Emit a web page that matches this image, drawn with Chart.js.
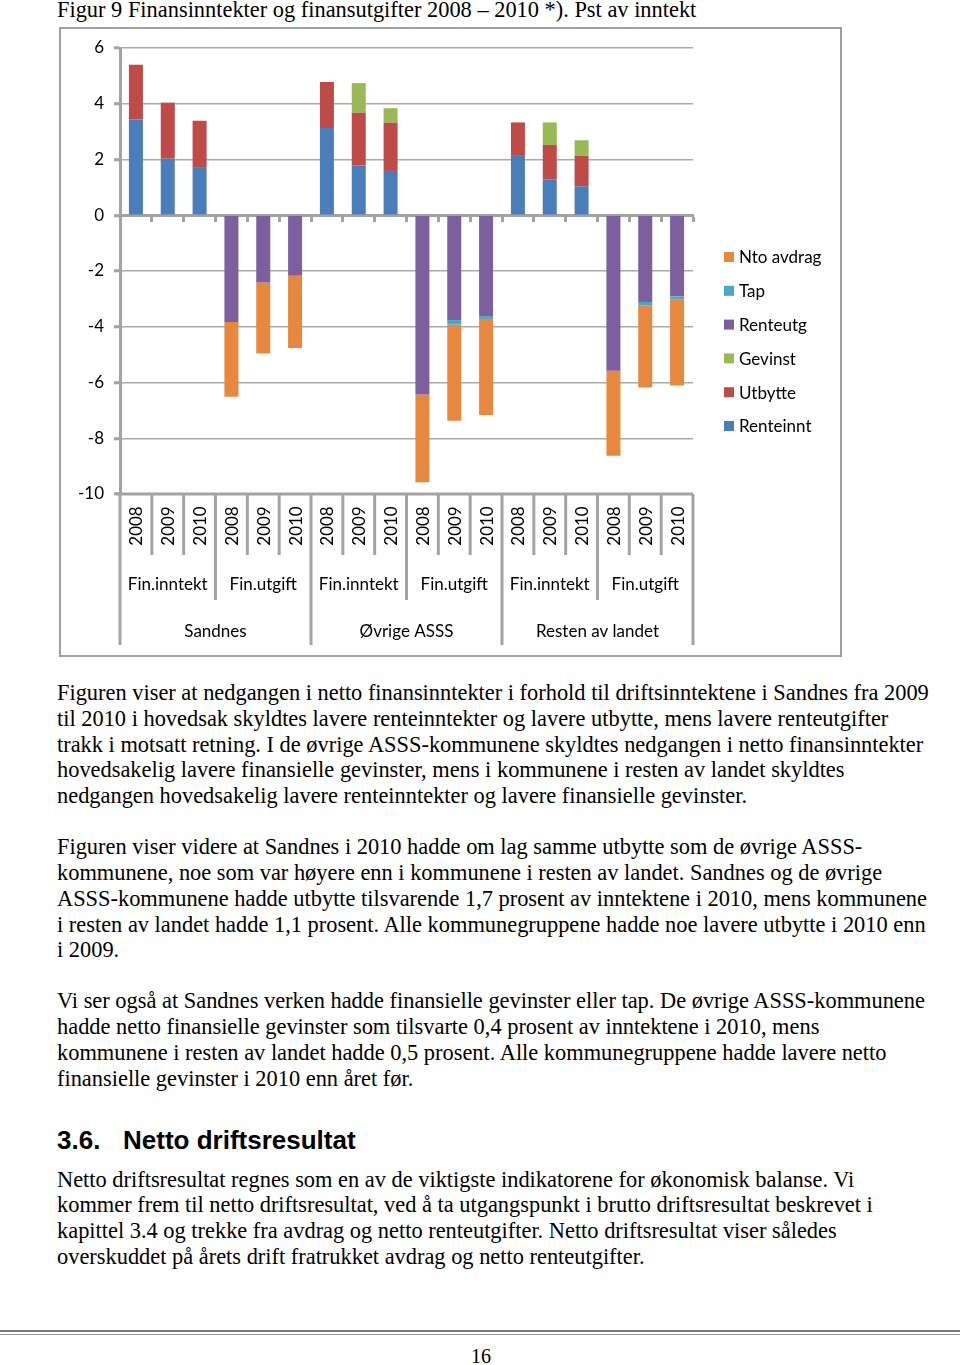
<!DOCTYPE html>
<html>
<head>
<meta charset="utf-8">
<script src="https://cdn.jsdelivr.net/npm/chart.js@4.4.1/dist/chart.umd.min.js"></script>
<style>
  body { margin: 0; width: 960px; height: 1365px; background: #fff; position: relative; overflow: hidden; }
  .t { position: absolute; left: 57px; white-space: nowrap; font-family: "Liberation Serif", "Times New Roman", serif; font-size: 22.4px; line-height: 26px; color: #000; }
  .h { position: absolute; left: 57px; white-space: nowrap; font-family: "Liberation Sans", Arial, sans-serif; font-weight: bold; font-size: 26px; line-height: 30px; }
  #finChart { position: absolute; left: 59px; top: 27px; }
  .rule { position: absolute; left: 0; width: 960px; height: 0; }
</style>
</head>
<body>

<div class="t" style="top:-3px">Figur 9 Finansinntekter og finansutgifter 2008 – 2010 *). Pst av inntekt</div>

<canvas id="finChart" width="783" height="630"></canvas>

<div class="t" style="top:680px">Figuren viser at nedgangen i netto finansinntekter i forhold til driftsinntektene i Sandnes fra 2009</div>
<div class="t" style="top:706px">til 2010 i hovedsak skyldtes lavere renteinntekter og lavere utbytte, mens lavere renteutgifter</div>
<div class="t" style="top:732px">trakk i motsatt retning. I de øvrige ASSS-kommunene skyldtes nedgangen i netto finansinntekter</div>
<div class="t" style="top:757px">hovedsakelig lavere finansielle gevinster, mens i kommunene i resten av landet skyldtes</div>
<div class="t" style="top:783px">nedgangen hovedsakelig lavere renteinntekter og lavere finansielle gevinster.</div>

<div class="t" style="top:834px">Figuren viser videre at Sandnes i 2010 hadde om lag samme utbytte som de øvrige ASSS-</div>
<div class="t" style="top:860px">kommunene, noe som var høyere enn i kommunene i resten av landet. Sandnes og de øvrige</div>
<div class="t" style="top:886px">ASSS-kommunene hadde utbytte tilsvarende 1,7 prosent av inntektene i 2010, mens kommunene</div>
<div class="t" style="top:912px">i resten av landet hadde 1,1 prosent. Alle kommunegruppene hadde noe lavere utbytte i 2010 enn</div>
<div class="t" style="top:937px">i 2009.</div>

<div class="t" style="top:988px">Vi ser også at Sandnes verken hadde finansielle gevinster eller tap. De øvrige ASSS-kommunene</div>
<div class="t" style="top:1014px">hadde netto finansielle gevinster som tilsvarte 0,4 prosent av inntektene i 2010, mens</div>
<div class="t" style="top:1040px">kommunene i resten av landet hadde 0,5 prosent. Alle kommunegruppene hadde lavere netto</div>
<div class="t" style="top:1066px">finansielle gevinster i 2010 enn året før.</div>

<div class="h" style="top:1125px">3.6.<span style="position:absolute;left:66px">Netto driftsresultat</span></div>

<div class="t" style="top:1167px">Netto driftsresultat regnes som en av de viktigste indikatorene for økonomisk balanse. Vi</div>
<div class="t" style="top:1192px">kommer frem til netto driftsresultat, ved å ta utgangspunkt i brutto driftsresultat beskrevet i</div>
<div class="t" style="top:1218px">kapittel 3.4 og trekke fra avdrag og netto renteutgifter. Netto driftsresultat viser således</div>
<div class="t" style="top:1244px">overskuddet på årets drift fratrukket avdrag og netto renteutgifter.</div>

<div class="rule" style="top:1330px;border-top:2px solid #777"></div>
<div class="rule" style="top:1334px;border-top:1px solid #999"></div>
<div class="t" style="top:1343px;left:0;width:962px;text-align:center;font-size:20px">16</div>

<script>
// kategorier (tre nivåer)
const years = ['2008', '2009', '2010'];
const types = ['Fin.inntekt', 'Fin.utgift'];
const groups = ['Sandnes', 'Øvrige ASSS', 'Resten av landet'];

// verdier, pst av inntekt
const renteinnt = [3.43, 2.03, 1.70, null, null, null, 3.13, 1.79, 1.59, null, null, null, 2.13, 1.29, 1.04, null, null, null];
const utbytte   = [1.97, 2.01, 1.69, null, null, null, 1.65, 1.89, 1.73, null, null, null, 1.20, 1.23, 1.09, null, null, null];
const gevinst   = [null, null, null, null, null, null, null, 1.06, 0.52, null, null, null, null, 0.81, 0.56, null, null, null];
const renteutg  = [null, null, null, -3.83, -2.41, -2.17, null, null, null, -6.43, -3.76, -3.62, null, null, null, -5.58, -3.11, -2.91];
const tap       = [null, null, null, null, null, null, null, null, null, null, -0.16, -0.10, null, null, null, null, -0.13, -0.12];
const avdrag    = [null, null, null, -2.68, -2.55, -2.59, null, null, null, -3.15, -3.45, -3.45, null, null, null, -3.05, -2.94, -3.08];

const yTicks = [6, 4, 2, 0, -2, -4, -6, -8, -10];

const labels = [];
groups.forEach(function(g) {
	types.forEach(function(t) {
		years.forEach(function(y) { labels.push(y); });
	});
});

const axisGray = '#a3a3a3';

// ramme, forklaring og kategoriaksen med flere nivåer
const excelLook = {
	id: 'excelLook',
	beforeDraw: function(chart) {
		const c = chart.ctx;
		c.save();
		c.fillStyle = '#fff';
		c.fillRect(0, 0, chart.width, chart.height);
		c.strokeStyle = '#a0a0a0';
		c.lineWidth = 2;
		c.strokeRect(1, 1, chart.width - 2, chart.height - 2);
		c.restore();
	},
	afterDraw: function(chart) {
		const c = chart.ctx;
		const xs = chart.scales.x;
		const ys = chart.scales.y;
		const base = ys.getPixelForValue(-10);
		const n = labels.length;
		const step = xs.getPixelForValue(1) - xs.getPixelForValue(0);
		const left = xs.getPixelForValue(0) - step / 2;

		c.save();
		// bunnlinje og skillestreker
		c.strokeStyle = axisGray;
		c.lineWidth = 3;
		c.beginPath();
		c.moveTo(left - 4, base);
		c.lineTo(left + n * step, base);
		c.stroke();
		for (let k = 0; k <= n; k++) {
			const bx = left + k * step;
			let end = base + 61;
			if (k % 6 === 0) end = base + 151;
			else if (k % 3 === 0) end = base + 106;
			c.beginPath();
			c.moveTo(bx, base);
			c.lineTo(bx, end);
			c.stroke();
		}

		c.fillStyle = '#000';
		c.font = '17px Lato';
		c.textAlign = 'center';
		c.textBaseline = 'middle';
		for (let i = 0; i < n; i++) {
			const cx = xs.getPixelForValue(i);
			c.save();
			c.translate(cx + 1, base + 32);
			c.rotate(-Math.PI / 2);
			c.fillText(labels[i], 0, 0);
			c.restore();
		}
		for (let j = 0; j < groups.length * types.length; j++) {
			c.fillText(types[j % 2], left + (j * 3 + 1.5) * step, base + 91);
		}
		for (let g = 0; g < groups.length; g++) {
			c.fillText(groups[g], left + (g * 6 + 3) * step, base + 138);
		}

		// forklaring
		c.font = '17px Lato';
		c.textAlign = 'left';
		const sets = chart.data.datasets.slice().reverse();
		sets.forEach(function(ds, i) {
			const ly = 230 + i * 33.8;
			c.fillStyle = ds.backgroundColor;
			c.fillRect(665, ly - 5, 10, 10);
			c.fillStyle = '#000';
			c.fillText(ds.label, 680, ly + 1);
		});
		c.restore();
	}
};

new Chart(document.getElementById('finChart'), {
	type: 'bar',
	data: {
		labels: labels,
		datasets: [
			{ label: 'Renteinnt', data: renteinnt, backgroundColor: '#4a7ebb' },
			{ label: 'Utbytte', data: utbytte, backgroundColor: '#be4b48' },
			{ label: 'Gevinst', data: gevinst, backgroundColor: '#98b954' },
			{ label: 'Renteutg', data: renteutg, backgroundColor: '#7d5fa0' },
			{ label: 'Tap', data: tap, backgroundColor: '#46a9c4' },
			{ label: 'Nto avdrag', data: avdrag, backgroundColor: '#e8883f' }
		]
	},
	options: {
		responsive: false,
		animation: false,
		devicePixelRatio: 1,
		barPercentage: 0.44,
		categoryPercentage: 1,
		layout: { padding: { left: 0, top: 21, right: 149, bottom: 163 } },
		plugins: {
			legend: { display: false },
			tooltip: { enabled: false }
		},
		scales: {
			x: {
				stacked: true,
				position: { y: 0 },
				offset: true,
				afterFit: function(scale) { scale.height = 0; },
				grid: {
					offset: true,
					drawOnChartArea: false,
					tickLength: 5,
					tickWidth: 3,
					tickColor: axisGray
				},
				border: { color: axisGray, width: 3 },
				ticks: { display: false }
			},
			y: {
				stacked: true,
				min: -10,
				max: 6,
				afterFit: function(scale) { scale.width = 61; },
				afterBuildTicks: function(scale) {
					scale.ticks = yTicks.map(function(v) { return { value: v }; });
				},
				grid: {
					color: '#aaaaaa',
					lineWidth: 1.5,
					tickLength: 6,
					tickWidth: 3,
					tickColor: axisGray
				},
				border: { color: axisGray, width: 3 },
				ticks: {
					color: '#000',
					padding: 10,
					font: { family: 'Lato', size: 17 }
				}
			}
		}
	},
	plugins: [excelLook]
});
</script>
</body>
</html>
